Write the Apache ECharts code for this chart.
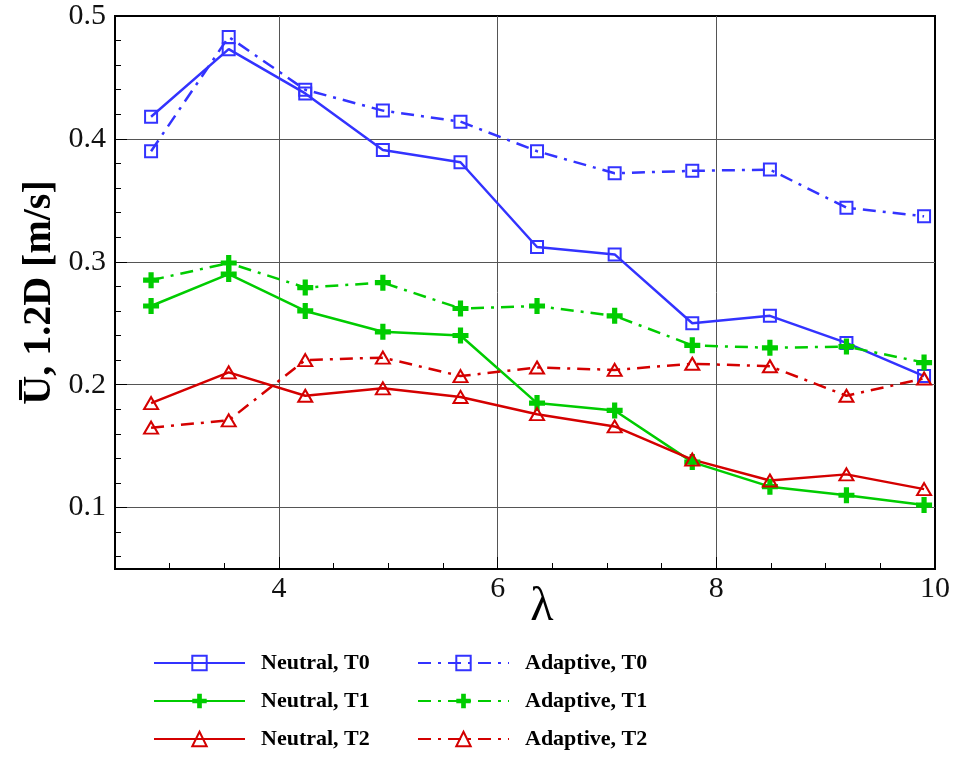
<!DOCTYPE html>
<html>
<head>
<meta charset="utf-8">
<script src="https://cdn.jsdelivr.net/npm/echarts@6/dist/echarts.min.js"></script>
<style>html,body{margin:0;padding:0;background:#fff}#c{width:953px;height:759px}</style>
</head>
<body>
<div id="c"></div>
<script>
const lambda = [2.83, 3.54, 4.24, 4.95, 5.66, 6.36, 7.07, 7.78, 8.49, 9.19, 9.90];
const neutralT0 = [0.418, 0.473, 0.437, 0.391, 0.381, 0.312, 0.306, 0.250, 0.256, 0.234, 0.207];
const adaptiveT0 = [0.390, 0.483, 0.440, 0.423, 0.414, 0.390, 0.372, 0.374, 0.375, 0.344, 0.337];
const neutralT1 = [0.264, 0.290, 0.260, 0.243, 0.240, 0.185, 0.179, 0.137, 0.117, 0.110, 0.102];
const adaptiveT1 = [0.285, 0.299, 0.279, 0.283, 0.262, 0.264, 0.256, 0.232, 0.230, 0.231, 0.218];
const neutralT2 = [0.185, 0.210, 0.191, 0.197, 0.190, 0.176, 0.166, 0.139, 0.122, 0.127, 0.115];
const adaptiveT2 = [0.165, 0.171, 0.220, 0.222, 0.207, 0.214, 0.212, 0.217, 0.215, 0.191, 0.205];

const xMajorLabels = [4, 6, 8, 10];
const xMajorTicks = [4, 6, 8];
const xMinorTicks = [3, 3.5, 4.5, 5, 5.5, 6.5, 7, 7.5, 8.5, 9, 9.5];
const yMajorLabels = [0.1, 0.2, 0.3, 0.4, 0.5];
const yMajorTicks = [0.1, 0.2, 0.3, 0.4];
const yMinorTicks = [0.06, 0.08, 0.12, 0.14, 0.16, 0.18, 0.22, 0.24, 0.26, 0.28, 0.32, 0.34, 0.36, 0.38, 0.42, 0.44, 0.46, 0.48];

const BLUE = '#3333ff', GREEN = '#00cc00', RED = '#d40000';
const FONT = 'Liberation Serif';
const DASHDOT = [13, 7, 3, 7];
const PLUS = 'path://M2.7,0H5.3V2.7H8V5.3H5.3V8H2.7V5.3H0V2.7H2.7Z';

function pts(ys) { return lambda.map((x, i) => [x, ys[i]]); }
function mk(name, ys, color, dashed, marker) {
  const s = {
    name: name, type: 'line', data: pts(ys), xAxisIndex: 0, yAxisIndex: 0,
    showSymbol: true, animation: false, z: 3,
    lineStyle: { color: color, width: 2.5, type: dashed ? DASHDOT : 'solid' },
    emphasis: { disabled: true }
  };
  if (marker === 'square') {
    s.symbol = 'rect'; s.symbolSize = 12;
    s.itemStyle = { color: 'rgba(0,0,0,0)', borderColor: color, borderWidth: 2 };
  } else if (marker === 'plus') {
    s.symbol = PLUS; s.symbolSize = 16;
    s.itemStyle = { color: color, borderWidth: 0 };
  } else {
    s.symbol = 'triangle'; s.symbolSize = [14, 12];
    s.itemStyle = { color: 'rgba(0,0,0,0)', borderColor: color, borderWidth: 2 };
  }
  return s;
}

const legendText = { fontFamily: FONT, fontWeight: 'bold', fontSize: 22, color: '#000', lineHeight: 22, padding: [0, 0, 0, 11] };
const legendBase = {
  orient: 'vertical', itemWidth: 91, itemHeight: 18, itemGap: 16, padding: 0,
  top: 652, textStyle: legendText, selectedMode: false
};

const chart = echarts.init(document.getElementById('c'), null, { renderer: 'canvas' });
chart.setOption({
  animation: false,
  backgroundColor: '#fff',
  grid: { left: 115, right: 18, top: 16, bottom: 190, show: true, borderColor: '#000', borderWidth: 2, backgroundColor: 'rgba(0,0,0,0)' },
  legend: [
    Object.assign({}, legendBase, { left: 153, data: ['Neutral, T0', 'Neutral, T1', 'Neutral, T2'] }),
    Object.assign({}, legendBase, { left: 417, data: ['Adaptive, T0', 'Adaptive, T1', 'Adaptive, T2'] })
  ],
  xAxis: [
    {
      type: 'value', min: 2.5, max: 10, position: 'bottom',
      name: 'λ', nameLocation: 'middle', nameGap: 14, nameMoveOverlap: false,
      nameTextStyle: { fontFamily: FONT, fontSize: 48, color: '#000', padding: [0, 0, 0, 34], verticalAlign: 'top' },
      axisLine: { show: true, onZero: false, lineStyle: { color: '#000', width: 2 } },
      axisTick: { show: true, inside: true, length: 12, customValues: xMajorTicks, lineStyle: { color: '#000', width: 1 } },
      axisLabel: { customValues: xMajorLabels, hideOverlap: false, fontFamily: FONT, fontSize: 30, color: '#111', margin: 5 },
      splitLine: { show: true, lineStyle: { color: '#555', width: 1 } }
    },
    {
      type: 'value', min: 2.5, max: 10, position: 'bottom',
      axisLine: { show: false },
      axisTick: { show: true, inside: true, length: 6, customValues: xMinorTicks, lineStyle: { color: '#000', width: 1 } },
      axisLabel: { show: false },
      splitLine: { show: false }
    }
  ],
  yAxis: [
    {
      type: 'value', min: 0.05, max: 0.5, position: 'left',
      name: 'U\u0305, 1.2D [m/s]', nameLocation: 'middle', nameGap: 55, nameMoveOverlap: false,
      nameTextStyle: { fontFamily: FONT, fontSize: 40, fontWeight: 'bold', color: '#000' },
      axisLine: { show: true, onZero: false, lineStyle: { color: '#000', width: 2 } },
      axisTick: { show: true, inside: true, length: 12, customValues: yMajorTicks, lineStyle: { color: '#000', width: 1 } },
      axisLabel: { customValues: yMajorLabels, hideOverlap: false, formatter: v => v.toFixed(1), fontFamily: FONT, fontSize: 30, color: '#111', margin: 9 },
      splitLine: { show: true, lineStyle: { color: '#555', width: 1 } }
    },
    {
      type: 'value', min: 0.05, max: 0.5, position: 'left',
      axisLine: { show: false },
      axisTick: { show: true, inside: true, length: 6, customValues: yMinorTicks, lineStyle: { color: '#000', width: 1 } },
      axisLabel: { show: false },
      splitLine: { show: false }
    }
  ],
  series: [
    mk('Neutral, T0', neutralT0, BLUE, false, 'square'),
    mk('Neutral, T1', neutralT1, GREEN, false, 'plus'),
    mk('Neutral, T2', neutralT2, RED, false, 'triangle'),
    mk('Adaptive, T0', adaptiveT0, BLUE, true, 'square'),
    mk('Adaptive, T1', adaptiveT1, GREEN, true, 'plus'),
    mk('Adaptive, T2', adaptiveT2, RED, true, 'triangle')
  ]
});
</script>
</body>
</html>
